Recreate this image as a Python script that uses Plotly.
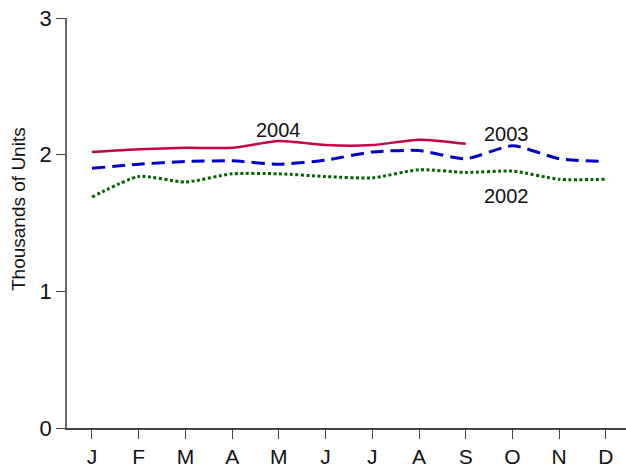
import plotly.graph_objects as go

months = ["J", "F", "M", "A", "M", "J", "J", "A", "S", "O", "N", "D"]
xpos = list(range(12))
y2004 = [2.02, 2.04, 2.05, 2.05, 2.10, 2.07, 2.07, 2.11, 2.08]
y2003 = [1.90, 1.93, 1.95, 1.955, 1.93, 1.96, 2.02, 2.03, 1.97, 2.065, 1.97, 1.95]
y2002 = [1.69, 1.84, 1.80, 1.86, 1.86, 1.84, 1.83, 1.89, 1.87, 1.88, 1.82, 1.82]
yticks = [0, 1, 2, 3]

font = "Liberation Sans, Arial, sans-serif"

fig = go.Figure()
fig.add_trace(go.Scatter(x=xpos, y=y2002, mode="lines",
                         line=dict(color="#006400", width=3, dash="3px,2.5px", shape="spline", smoothing=0.6)))
fig.add_trace(go.Scatter(x=xpos, y=y2003, mode="lines",
                         line=dict(color="#0000C8", width=3, dash="13px,7px", shape="spline", smoothing=0.6)))
fig.add_trace(go.Scatter(x=xpos[:len(y2004)], y=y2004, mode="lines",
                         line=dict(color="#C8004A", width=2.5, shape="spline", smoothing=0.6)))

labels = [("2004", 4.0, 2.18), ("2003", 8.88, 2.15), ("2002", 8.88, 1.70)]
for t, x, y in labels:
    fig.add_annotation(x=x, y=y, text=t, showarrow=False,
                       font=dict(family=font, size=20, color="#111111"))

fig.add_annotation(xref="paper", yref="paper", x=-0.087, y=0.535, text="Thousands of Units",
                   textangle=-90, showarrow=False, xanchor="center", yanchor="middle",
                   font=dict(family=font, size=19, color="#111111"))

fig.update_layout(
    width=626, height=467,
    margin=dict(l=67, r=0, t=18, b=39),
    paper_bgcolor="white", plot_bgcolor="white",
    showlegend=False,
    font=dict(family=font, size=20, color="#111111"),
)
fig.update_xaxes(range=[-0.535, 11.43], tickmode="array", tickvals=xpos, ticktext=months,
                 showgrid=False, zeroline=False, showline=True, linecolor="#444444", linewidth=1.5,
                 ticks="outside", ticklen=9, tickcolor="#444444", tickwidth=1.2,
                 tickfont=dict(size=21), automargin=False)
fig.update_yaxes(range=[0, 3], tickmode="array", tickvals=yticks,
                 showgrid=False, zeroline=False, showline=True, linecolor="#666666", linewidth=1.5,
                 ticks="outside", ticklen=9, tickcolor="#444444", tickwidth=1.2,
                 tickfont=dict(size=22), automargin=False)

fig.write_html("out.html", config={"displayModeBar": False},
               post_script="document.body.style.margin='0';document.body.style.overflow='hidden';")
